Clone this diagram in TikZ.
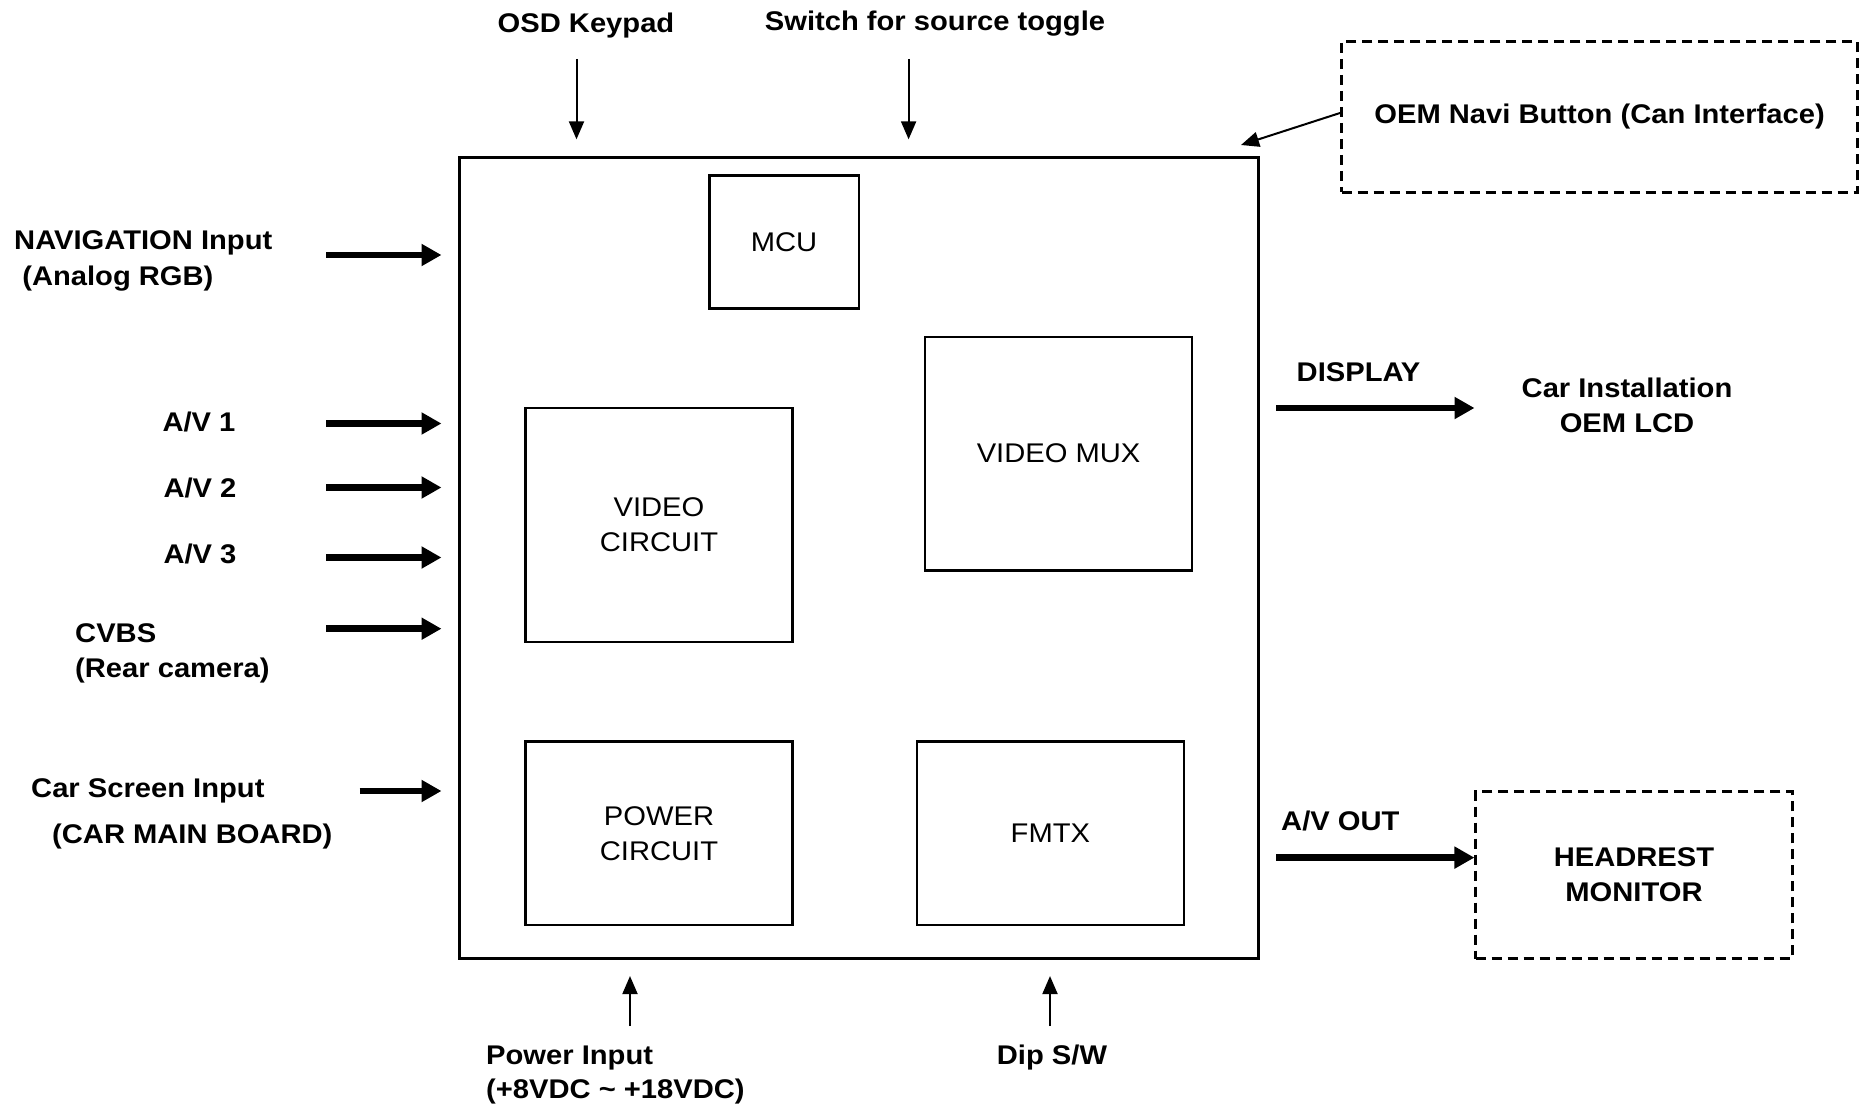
\documentclass[tikz,border=0pt]{standalone}
\usepackage{fontspec}
\setmainfont{Liberation Sans}[FakeStretch=1.08]
\usetikzlibrary{arrows.meta}
\begin{document}
\begin{tikzpicture}[x=1pt,y=-1pt,
  lbl/.style={font=\fontsize{27}{35}\selectfont\bfseries, inner sep=0pt},
  txt/.style={font=\fontsize{27}{35}\selectfont, inner sep=0pt, align=center},
  blk/.style={draw, line width=2.5pt, inner sep=0pt},
  dbox/.style={draw, line width=2.5pt, dash pattern=on 10pt off 6pt, inner sep=0pt,
               font=\fontsize{27}{35}\selectfont\bfseries, align=center},
  thinarrow/.style={line width=2pt, -{Triangle[length=18pt,width=15pt]}},
  fatarrow/.style={line width=6.5pt, -{Triangle[length=20pt,width=21pt]}},
]
\useasboundingbox (0,0) rectangle (1860,1105);

% main box
\node[draw, line width=3pt, minimum width=799.6pt, minimum height=800.7pt] (main) at (858.8,558.2) {};

% inner blocks
\node[blk, txt, minimum width=149.5pt, minimum height=132.8pt] (mcu) at (784,242) {MCU};
\node[blk, txt, minimum width=266.9pt, minimum height=233.7pt] (vmux) at (1058.6,453.7) {VIDEO MUX};
\node[blk, txt, minimum width=266.9pt, minimum height=233.7pt] (vcirc) at (659,524.9) {VIDEO\\CIRCUIT};
\node[blk, txt, minimum width=266.9pt, minimum height=183.8pt] (pcirc) at (659,833.3) {POWER\\CIRCUIT};
\node[blk, txt, minimum width=266.8pt, minimum height=183.8pt] (fmtx) at (1050.4,833.3) {FMTX};

% dashed external boxes
\node[dbox, minimum width=516pt, minimum height=150.7pt] (oem) at (1599.6,116.9) {OEM Navi Button (Can Interface)};
\node[dbox, minimum width=316.7pt, minimum height=167.3pt] (head) at (1634,874.9) {HEADREST\\MONITOR};

% top labels
\node[lbl, anchor=base] (osd) at (586,33) {OSD Keypad};
\node[lbl, anchor=base] (sw) at (935,31) {Switch for source toggle};

% left labels
\node[lbl, anchor=base west] (nav1) at (14,249) {NAVIGATION Input};
\node[lbl, anchor=base west] (nav2) at (14,285) {\ (Analog RGB)};
\node[lbl, anchor=base] (av1) at (199,431) {A/V 1};
\node[lbl, anchor=base] (av2) at (200,497) {A/V 2};
\node[lbl, anchor=base] (av3) at (200,563.5) {A/V 3};
\node[lbl, anchor=base west] (cvbs1) at (75,642) {CVBS};
\node[lbl, anchor=base west] (cvbs2) at (75,677.5) {(Rear camera)};
\node[lbl, anchor=base west] (car1) at (31,797) {Car Screen Input};
\node[lbl, anchor=base west] (car2) at (52,843.5) {(CAR MAIN BOARD)};

% right labels
\node[lbl, anchor=base west] (disp) at (1296.5,381) {DISPLAY};
\node[lbl, anchor=base] (lcd1) at (1627,397.5) {Car Installation};
\node[lbl, anchor=base] (lcd2) at (1627,432) {OEM LCD};
\node[lbl, anchor=base west] (avout) at (1281,830.5) {A/V OUT};

% bottom labels
\node[lbl, anchor=base west] (pwr1) at (486,1064) {Power Input};
\node[lbl, anchor=base west] (pwr2) at (486,1098) {(+8VDC \textasciitilde\ +18VDC)};
\node[lbl, anchor=base] (dip) at (1052,1064) {Dip S/W};

% arrow start points
\coordinate (sNav) at (326,255);
\coordinate (sAv1) at (326,423.5);
\coordinate (sAv2) at (326,487.5);
\coordinate (sAv3) at (326,557.5);
\coordinate (sCvbs) at (326,628.7);
\coordinate (sCar) at (359.5,791);
\coordinate (sOsd) at (576.5,59);
\coordinate (sSw) at (908.6,59);
\coordinate (sPwr) at (630,1026);
\coordinate (sDip) at (1050,1026);
\coordinate (sDisp) at (1276,408);
\coordinate (eDisp) at (1474.5,408);
\coordinate (sAvOut) at (1276,857.6);
\coordinate (sOem) at (1340,113);
\coordinate (eOem) at (1241,145);

% left inputs
\foreach \s in {sNav,sAv1,sAv2,sAv3,sCvbs,sCar}
  \draw[fatarrow, shorten >=16pt] (\s) -- (\s -| main.west);

% top inputs
\draw[thinarrow, shorten >=17pt] (sOsd) -- (sOsd |- main.north);
\draw[thinarrow, shorten >=17pt] (sSw) -- (sSw |- main.north);

% bottom inputs
\draw[thinarrow, shorten >=16pt] (sPwr) -- (sPwr |- main.south);
\draw[thinarrow, shorten >=16pt] (sDip) -- (sDip |- main.south);

% OEM button
\draw[thinarrow] (sOem) -- (eOem);

% outputs
\draw[fatarrow] (sDisp) -- (eDisp);
\draw[fatarrow] (sAvOut) -- (sAvOut -| head.west);
\end{tikzpicture}
\end{document}
